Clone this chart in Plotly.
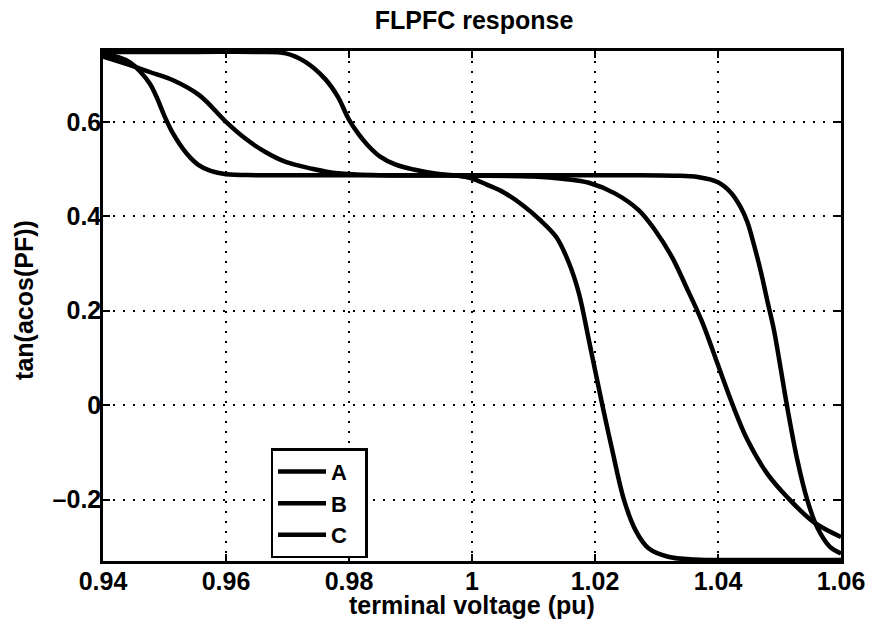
import plotly.graph_objects as go

# ---- data ----
xA = [0.94, 0.9425, 0.9445, 0.946, 0.9476, 0.9488, 0.95, 0.9514, 0.9536, 0.9555, 0.9575, 0.96,
      0.965, 0.975, 1.0, 1.025, 1.033, 1.0367, 1.04, 1.0421, 1.0437, 1.0448, 1.0459, 1.047,
      1.048, 1.0491, 1.0502, 1.0512, 1.0529, 1.0545, 1.0561, 1.0582, 1.06]
yA = [0.742, 0.737, 0.725, 0.707, 0.681, 0.650, 0.612, 0.575, 0.533, 0.509, 0.496, 0.489,
      0.487, 0.487, 0.487, 0.487, 0.486, 0.483, 0.472, 0.450, 0.419, 0.387, 0.337, 0.281,
      0.222, 0.159, 0.077, 0.0, -0.116, -0.2, -0.258, -0.30, -0.314]

xB = [0.94, 0.9444, 0.9477, 0.9514, 0.9557, 0.96, 0.9632, 0.9664, 0.9697, 0.9739, 0.9782,
      0.985, 1.0, 1.01, 1.015, 1.019, 1.0233, 1.0271, 1.0298, 1.0325, 1.0351, 1.0373,
      1.0389, 1.0405, 1.0424, 1.0448, 1.048, 1.0512, 1.0555, 1.06]
yB = [0.738, 0.720, 0.705, 0.688, 0.656, 0.600, 0.564, 0.536, 0.515, 0.501, 0.491,
      0.487, 0.486, 0.484, 0.479, 0.471, 0.448, 0.413, 0.370, 0.314, 0.243, 0.180,
      0.125, 0.067, 0.0, -0.074, -0.145, -0.194, -0.247, -0.279]

xC = [0.94, 0.955, 0.965, 0.9697, 0.9729, 0.9761, 0.9782, 0.9799, 0.9815, 0.983, 0.985,
      0.9875, 0.9905, 0.9943, 0.9975, 1.0, 1.0024, 1.0051, 1.0083, 1.011, 1.0137, 1.0158,
      1.0174, 1.019, 1.0212, 1.0228, 1.0247, 1.0266, 1.0287, 1.0319, 1.0362, 1.045, 1.06]
yC = [0.748, 0.748, 0.748, 0.745, 0.727, 0.691, 0.653, 0.607, 0.575, 0.551, 0.527,
      0.510, 0.499, 0.490, 0.486, 0.480, 0.467, 0.451, 0.423, 0.393, 0.356, 0.300,
      0.236, 0.138, 0.0, -0.095, -0.2, -0.265, -0.303, -0.321, -0.327, -0.328, -0.328]

series_names = ["A", "B", "C"]
x_ticks = [0.94, 0.96, 0.98, 1.0, 1.02, 1.04, 1.06]
x_ticktext = ["0.94", "0.96", "0.98", "1", "1.02", "1.04", "1.06"]
y_ticks = [-0.2, 0.0, 0.2, 0.4, 0.6]
y_ticktext = ["\u20130.2", "0", "0.2", "0.4", "0.6"]

FONT = "Liberation Sans, Arial, Helvetica, sans-serif"
BOLD = dict(family=FONT, color="black", weight="bold")

fig = go.Figure()
for name, xs, ys in zip(series_names, [xA, xB, xC], [yA, yB, yC]):
    fig.add_trace(go.Scatter(
        x=xs, y=ys, name=name + "\u00a0\u00a0", mode="lines",
        line=dict(color="black", width=4.5, shape="spline", smoothing=1.0),
    ))

axis_common = dict(
    showline=True, linecolor="black", linewidth=2.5, mirror="ticks",
    ticks="inside", ticklen=7, tickwidth=2, tickcolor="black",
    showgrid=True, gridcolor="black", gridwidth=1.5, griddash="2px,8px",
    zeroline=False,
    tickfont=dict(size=25, **BOLD),
)

fig.update_xaxes(range=[0.94, 1.06], tickvals=x_ticks, ticktext=x_ticktext,
                 ticklabelstandoff=-4, **axis_common)
fig.update_yaxes(range=[-0.33, 0.75], tickvals=y_ticks, ticktext=y_ticktext,
                 ticklabelstandoff=-6, **axis_common)

fig.update_layout(
    width=877, height=628,
    margin=dict(l=103, r=30, t=51, b=67),
    paper_bgcolor="white", plot_bgcolor="white",
    title=dict(text="FLPFC response", x=0.5405, xanchor="center", y=0.967, yanchor="middle",
               font=dict(size=25, **BOLD)),
    showlegend=True,
    legend=dict(
        x=0.227, y=0.221, xanchor="left", yanchor="top",
        bgcolor="white", bordercolor="black", borderwidth=2.5,
        font=dict(size=22, **BOLD),
        itemwidth=48, tracegroupgap=0,
    ),
    annotations=[
        dict(text="terminal voltage (pu)", xref="paper", yref="paper", x=0.5, y=-0.087,
             xanchor="center", yanchor="middle", showarrow=False, font=dict(size=25, **BOLD)),
        dict(text="tan(acos(PF))", xref="paper", yref="paper", x=-0.107, y=0.512,
             xanchor="center", yanchor="middle", textangle=-90, showarrow=False,
             font=dict(size=25, **BOLD)),
    ],
)

fig.write_html("out.html", config={"displayModeBar": False},
               post_script="document.body.style.margin='0';")
